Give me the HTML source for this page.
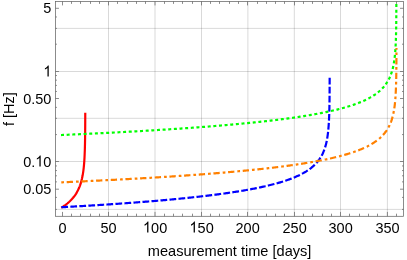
<!DOCTYPE html>
<html><head><meta charset="utf-8"><style>
html,body{margin:0;padding:0;background:#fff;}
body{width:407px;height:260px;overflow:hidden;}
svg{display:block;will-change:transform;opacity:0.999;}
text{font-family:"Liberation Sans",sans-serif;font-size:14.5px;fill:#000;}
</style></head><body>
<svg width="407" height="260" viewBox="0 0 407 260">
<rect width="407" height="260" fill="#fff"/>
<g stroke="#000" stroke-opacity="0.15" stroke-width="1" fill="none">
<line x1="108.50" x2="108.50" y1="1.40" y2="216.30"/>
<line x1="155.00" x2="155.00" y1="1.40" y2="216.30"/>
<line x1="201.50" x2="201.50" y1="1.40" y2="216.30"/>
<line x1="247.90" x2="247.90" y1="1.40" y2="216.30"/>
<line x1="294.30" x2="294.30" y1="1.40" y2="216.30"/>
<line x1="340.50" x2="340.50" y1="1.40" y2="216.30"/>
<line x1="387.40" x2="387.40" y1="1.40" y2="216.30"/>
<line x1="55.45" x2="403.50" y1="28.40" y2="28.40"/>
<line x1="55.45" x2="403.50" y1="71.50" y2="71.50"/>
<line x1="55.45" x2="403.50" y1="118.30" y2="118.30"/>
<line x1="55.45" x2="403.50" y1="161.50" y2="161.50"/>
<line x1="55.45" x2="403.50" y1="209.40" y2="209.40"/>
</g>
<defs><clipPath id="c"><rect x="55.45" y="1.40" width="348.05" height="214.90"/></clipPath></defs>
<g fill="none" stroke-width="2.2" clip-path="url(#c)" stroke-linejoin="round">
<path d="M61.30 207.73 L62.30 207.10 L63.30 206.45 L64.30 205.76 L65.30 205.05 L66.30 204.29 L67.30 203.50 L68.30 202.65 L69.30 201.76 L70.30 200.81 L70.80 200.31 L71.29 199.81 L71.75 199.31 L72.21 198.81 L72.64 198.31 L73.07 197.81 L73.47 197.31 L73.87 196.81 L74.25 196.31 L74.62 195.81 L74.98 195.31 L75.32 194.81 L75.65 194.31 L75.98 193.81 L76.29 193.31 L76.59 192.81 L76.88 192.31 L77.16 191.81 L77.43 191.31 L77.69 190.81 L77.95 190.31 L78.19 189.81 L78.43 189.31 L78.66 188.81 L78.88 188.31 L79.10 187.81 L79.30 187.31 L79.50 186.81 L79.70 186.31 L79.88 185.81 L80.07 185.31 L80.24 184.81 L80.41 184.31 L80.57 183.81 L80.73 183.31 L80.88 182.81 L81.03 182.31 L81.17 181.81 L81.31 181.31 L81.44 180.81 L81.57 180.31 L81.70 179.81 L81.82 179.31 L81.93 178.81 L82.05 178.31 L82.15 177.81 L82.26 177.31 L82.36 176.81 L82.46 176.31 L82.55 175.81 L82.65 175.31 L82.73 174.81 L82.82 174.31 L82.90 173.81 L82.98 173.31 L83.06 172.81 L83.14 172.31 L83.21 171.81 L83.28 171.31 L83.35 170.81 L83.41 170.31 L83.47 169.81 L83.53 169.31 L83.59 168.81 L83.65 168.31 L83.71 167.81 L83.76 167.31 L83.81 166.81 L83.86 166.31 L83.91 165.81 L83.95 165.31 L84.00 164.81 L84.04 164.31 L84.08 163.81 L84.13 163.31 L84.16 162.81 L84.20 162.31 L84.24 161.81 L84.27 161.31 L84.31 160.81 L84.34 160.31 L84.37 159.81 L84.40 159.31 L84.43 158.81 L84.46 158.31 L84.49 157.81 L84.52 157.31 L84.54 156.81 L84.57 156.31 L84.59 155.81 L84.62 155.31 L84.64 154.81 L84.66 154.31 L84.68 153.81 L84.70 153.31 L84.72 152.81 L84.74 152.31 L84.76 151.81 L84.78 151.31 L84.80 150.81 L84.81 150.31 L84.83 149.81 L84.85 149.31 L84.86 148.81 L84.88 148.31 L84.89 147.81 L84.90 147.31 L84.92 146.81 L84.93 146.31 L84.94 145.81 L84.95 145.31 L84.97 144.81 L84.98 144.31 L84.99 143.81 L85.00 143.31 L85.01 142.81 L85.02 142.31 L85.03 141.81 L85.04 141.31 L85.05 140.81 L85.05 140.31 L85.06 139.81 L85.07 139.31 L85.08 138.81 L85.09 138.31 L85.09 137.81 L85.10 137.31 L85.11 136.81 L85.11 136.31 L85.12 135.81 L85.12 135.31 L85.13 134.81 L85.14 134.31 L85.14 133.81 L85.15 133.31 L85.15 132.81 L85.16 132.31 L85.16 131.81 L85.17 131.31 L85.17 130.81 L85.18 130.31 L85.18 129.81 L85.18 129.31 L85.19 128.81 L85.19 128.31 L85.19 127.81 L85.20 127.31 L85.20 126.81 L85.20 126.31 L85.21 125.81 L85.21 125.31 L85.21 124.81 L85.22 124.31 L85.22 123.81 L85.22 123.31 L85.22 122.81 L85.23 122.31 L85.23 121.81 L85.23 121.31 L85.23 120.81 L85.24 120.31 L85.24 119.81 L85.24 119.31 L85.24 118.81 L85.24 118.31 L85.25 117.81 L85.25 117.31 L85.25 116.81 L85.25 116.31 L85.25 115.81 L85.25 115.31 L85.26 114.81 L85.26 114.31 L85.26 113.81 L85.26 113.31 L85.26 112.81 L85.26 112.80" stroke="#ff0000"/>
<path d="M61.00 135.05 L62.00 135.01 L63.00 134.96 L64.00 134.92 L65.00 134.87 L66.00 134.83 L67.00 134.78 L68.00 134.74 L69.00 134.70 L70.00 134.65 L71.00 134.60 L72.00 134.56 L73.00 134.51 L74.00 134.47 L75.00 134.42 L76.00 134.38 L77.00 134.33 L78.00 134.28 L79.00 134.24 L80.00 134.19 L81.00 134.15 L82.00 134.10 L83.00 134.05 L84.00 134.00 L85.00 133.96 L86.00 133.91 L87.00 133.86 L88.00 133.81 L89.00 133.77 L90.00 133.72 L91.00 133.67 L92.00 133.62 L93.00 133.57 L94.00 133.53 L95.00 133.48 L96.00 133.43 L97.00 133.38 L98.00 133.33 L99.00 133.28 L100.00 133.23 L101.00 133.18 L102.00 133.13 L103.00 133.08 L104.00 133.03 L105.00 132.98 L106.00 132.93 L107.00 132.88 L108.00 132.83 L109.00 132.78 L110.00 132.73 L111.00 132.67 L112.00 132.62 L113.00 132.57 L114.00 132.52 L115.00 132.47 L116.00 132.41 L117.00 132.36 L118.00 132.31 L119.00 132.26 L120.00 132.20 L121.00 132.15 L122.00 132.10 L123.00 132.04 L124.00 131.99 L125.00 131.93 L126.00 131.88 L127.00 131.82 L128.00 131.77 L129.00 131.71 L130.00 131.66 L131.00 131.60 L132.00 131.55 L133.00 131.49 L134.00 131.44 L135.00 131.38 L136.00 131.32 L137.00 131.27 L138.00 131.21 L139.00 131.15 L140.00 131.10 L141.00 131.04 L142.00 130.98 L143.00 130.92 L144.00 130.86 L145.00 130.81 L146.00 130.75 L147.00 130.69 L148.00 130.63 L149.00 130.57 L150.00 130.51 L151.00 130.45 L152.00 130.39 L153.00 130.33 L154.00 130.27 L155.00 130.21 L156.00 130.15 L157.00 130.09 L158.00 130.02 L159.00 129.96 L160.00 129.90 L161.00 129.84 L162.00 129.78 L163.00 129.71 L164.00 129.65 L165.00 129.59 L166.00 129.52 L167.00 129.46 L168.00 129.39 L169.00 129.33 L170.00 129.26 L171.00 129.20 L172.00 129.13 L173.00 129.07 L174.00 129.00 L175.00 128.94 L176.00 128.87 L177.00 128.80 L178.00 128.73 L179.00 128.67 L180.00 128.60 L181.00 128.53 L182.00 128.46 L183.00 128.39 L184.00 128.32 L185.00 128.26 L186.00 128.19 L187.00 128.12 L188.00 128.04 L189.00 127.97 L190.00 127.90 L191.00 127.83 L192.00 127.76 L193.00 127.69 L194.00 127.61 L195.00 127.54 L196.00 127.47 L197.00 127.39 L198.00 127.32 L199.00 127.25 L200.00 127.17 L201.00 127.10 L202.00 127.02 L203.00 126.94 L204.00 126.87 L205.00 126.79 L206.00 126.71 L207.00 126.64 L208.00 126.56 L209.00 126.48 L210.00 126.40 L211.00 126.32 L212.00 126.24 L213.00 126.16 L214.00 126.08 L215.00 126.00 L216.00 125.92 L217.00 125.84 L218.00 125.76 L219.00 125.67 L220.00 125.59 L221.00 125.51 L222.00 125.42 L223.00 125.34 L224.00 125.25 L225.00 125.17 L226.00 125.08 L227.00 124.99 L228.00 124.91 L229.00 124.82 L230.00 124.73 L231.00 124.64 L232.00 124.55 L233.00 124.46 L234.00 124.37 L235.00 124.28 L236.00 124.19 L237.00 124.10 L238.00 124.01 L239.00 123.91 L240.00 123.82 L241.00 123.72 L242.00 123.63 L243.00 123.53 L244.00 123.44 L245.00 123.34 L246.00 123.24 L247.00 123.14 L248.00 123.05 L249.00 122.95 L250.00 122.85 L251.00 122.74 L252.00 122.64 L253.00 122.54 L254.00 122.44 L255.00 122.33 L256.00 122.23 L257.00 122.12 L258.00 122.02 L259.00 121.91 L260.00 121.80 L261.00 121.70 L262.00 121.59 L263.00 121.48 L264.00 121.37 L265.00 121.25 L266.00 121.14 L267.00 121.03 L268.00 120.91 L269.00 120.80 L270.00 120.68 L271.00 120.57 L272.00 120.45 L273.00 120.33 L274.00 120.21 L275.00 120.09 L276.00 119.97 L277.00 119.84 L278.00 119.72 L279.00 119.60 L280.00 119.47 L281.00 119.34 L282.00 119.21 L283.00 119.09 L284.00 118.95 L285.00 118.82 L286.00 118.69 L287.00 118.56 L288.00 118.42 L289.00 118.29 L290.00 118.15 L291.00 118.01 L292.00 117.87 L293.00 117.73 L294.00 117.58 L295.00 117.44 L296.00 117.29 L297.00 117.15 L298.00 117.00 L299.00 116.85 L300.00 116.69 L301.00 116.54 L302.00 116.39 L303.00 116.23 L304.00 116.07 L305.00 115.91 L306.00 115.75 L307.00 115.58 L308.00 115.42 L309.00 115.25 L310.00 115.08 L311.00 114.91 L312.00 114.74 L313.00 114.56 L314.00 114.38 L315.00 114.20 L316.00 114.02 L317.00 113.84 L318.00 113.65 L319.00 113.46 L320.00 113.27 L321.00 113.08 L322.00 112.88 L323.00 112.68 L324.00 112.48 L325.00 112.27 L326.00 112.07 L327.00 111.86 L328.00 111.64 L329.00 111.43 L330.00 111.21 L331.00 110.98 L332.00 110.76 L333.00 110.52 L334.00 110.29 L335.00 110.05 L336.00 109.81 L337.00 109.57 L338.00 109.32 L339.00 109.06 L340.00 108.80 L341.00 108.54 L342.00 108.27 L343.00 108.00 L344.00 107.72 L345.00 107.44 L346.00 107.15 L347.00 106.85 L348.00 106.55 L349.00 106.24 L350.00 105.93 L351.00 105.61 L352.00 105.28 L353.00 104.94 L354.00 104.60 L355.00 104.25 L356.00 103.89 L357.00 103.52 L358.00 103.14 L359.00 102.75 L360.00 102.36 L361.00 101.95 L362.00 101.52 L363.00 101.09 L364.00 100.64 L365.00 100.18 L366.00 99.70 L367.00 99.21 L368.00 98.70 L369.00 98.17 L370.00 97.63 L371.00 97.06 L372.00 96.47 L373.00 95.85 L374.00 95.21 L375.00 94.54 L376.00 93.83 L377.00 93.09 L378.00 92.31 L379.00 91.49 L380.00 90.62 L381.00 89.69 L381.51 89.19 L382.01 88.69 L382.49 88.19 L382.96 87.69 L383.41 87.19 L383.84 86.69 L384.26 86.19 L384.66 85.69 L385.06 85.19 L385.43 84.69 L385.80 84.19 L386.15 83.69 L386.50 83.19 L386.83 82.69 L387.15 82.19 L387.46 81.69 L387.75 81.19 L388.04 80.69 L388.32 80.19 L388.59 79.69 L388.85 79.19 L389.10 78.69 L389.35 78.19 L389.58 77.69 L389.81 77.19 L390.03 76.69 L390.24 76.19 L390.45 75.69 L390.65 75.19 L390.84 74.69 L391.03 74.19 L391.21 73.69 L391.38 73.19 L391.55 72.69 L391.71 72.19 L391.87 71.69 L392.02 71.19 L392.16 70.69 L392.30 70.19 L392.44 69.69 L392.57 69.19 L392.70 68.69 L392.82 68.19 L392.94 67.69 L393.06 67.19 L393.17 66.69 L393.28 66.19 L393.38 65.69 L393.48 65.19 L393.58 64.69 L393.68 64.19 L393.77 63.69 L393.85 63.19 L393.94 62.69 L394.02 62.19 L394.10 61.69 L394.18 61.19 L394.25 60.69 L394.32 60.19 L394.39 59.69 L394.46 59.19 L394.52 58.69 L394.59 58.19 L394.65 57.69 L394.71 57.19 L394.76 56.69 L394.82 56.19 L394.87 55.69 L394.92 55.19 L394.97 54.69 L395.02 54.19 L395.06 53.69 L395.11 53.19 L395.15 52.69 L395.19 52.19 L395.23 51.69 L395.27 51.19 L395.31 50.69 L395.35 50.19 L395.38 49.69 L395.42 49.19 L395.45 48.69 L395.48 48.19 L395.51 47.69 L395.54 47.19 L395.57 46.69 L395.60 46.19 L395.62 45.69 L395.65 45.19 L395.68 44.69 L395.70 44.19 L395.72 43.69 L395.75 43.19 L395.77 42.69 L395.79 42.19 L395.81 41.69 L395.83 41.19 L395.85 40.69 L395.87 40.19 L395.88 39.69 L395.90 39.19 L395.92 38.69 L395.93 38.19 L395.95 37.69 L395.96 37.19 L395.98 36.69 L395.99 36.19 L396.01 35.69 L396.02 35.19 L396.03 34.69 L396.04 34.19 L396.06 33.69 L396.07 33.19 L396.08 32.69 L396.09 32.19 L396.10 31.69 L396.11 31.19 L396.12 30.69 L396.13 30.19 L396.14 29.69 L396.15 29.19 L396.16 28.69 L396.16 28.19 L396.17 27.69 L396.18 27.19 L396.19 26.69 L396.19 26.19 L396.20 25.69 L396.21 25.19 L396.21 24.69 L396.22 24.19 L396.23 23.69 L396.23 23.19 L396.24 22.69 L396.24 22.19 L396.25 21.69 L396.25 21.19 L396.26 20.69 L396.26 20.19 L396.27 19.69 L396.27 19.19 L396.28 18.69 L396.28 18.19 L396.28 17.69 L396.29 17.19 L396.29 16.69 L396.30 16.19 L396.30 15.69 L396.30 15.19 L396.31 14.69 L396.31 14.19 L396.31 13.69 L396.31 13.19 L396.32 12.69 L396.32 12.19 L396.32 11.69 L396.33 11.19 L396.33 10.69 L396.33 10.19 L396.33 9.69 L396.34 9.19 L396.34 8.69 L396.34 8.19 L396.34 7.69 L396.34 7.19 L396.35 6.69 L396.35 6.19 L396.35 5.69 L396.35 5.19 L396.35 4.69 L396.35 4.19 L396.36 3.69 L396.36 3.19 L396.36 2.69 L396.36 2.19 L396.36 1.69 L396.36 1.40" stroke="#00ff00" stroke-dasharray="3 2.652"/>
<path d="M61.30 207.25 L62.30 207.19 L63.30 207.14 L64.30 207.08 L65.30 207.03 L66.30 206.97 L67.30 206.91 L68.30 206.86 L69.30 206.80 L70.30 206.74 L71.30 206.69 L72.30 206.63 L73.30 206.57 L74.30 206.52 L75.30 206.46 L76.30 206.40 L77.30 206.34 L78.30 206.28 L79.30 206.22 L80.30 206.17 L81.30 206.11 L82.30 206.05 L83.30 205.99 L84.30 205.93 L85.30 205.87 L86.30 205.81 L87.30 205.75 L88.30 205.69 L89.30 205.62 L90.30 205.56 L91.30 205.50 L92.30 205.44 L93.30 205.38 L94.30 205.32 L95.30 205.25 L96.30 205.19 L97.30 205.13 L98.30 205.06 L99.30 205.00 L100.30 204.94 L101.30 204.87 L102.30 204.81 L103.30 204.74 L104.30 204.68 L105.30 204.61 L106.30 204.54 L107.30 204.48 L108.30 204.41 L109.30 204.35 L110.30 204.28 L111.30 204.21 L112.30 204.14 L113.30 204.08 L114.30 204.01 L115.30 203.94 L116.30 203.87 L117.30 203.80 L118.30 203.73 L119.30 203.66 L120.30 203.59 L121.30 203.52 L122.30 203.45 L123.30 203.38 L124.30 203.31 L125.30 203.24 L126.30 203.16 L127.30 203.09 L128.30 203.02 L129.30 202.95 L130.30 202.87 L131.30 202.80 L132.30 202.72 L133.30 202.65 L134.30 202.57 L135.30 202.50 L136.30 202.42 L137.30 202.35 L138.30 202.27 L139.30 202.19 L140.30 202.11 L141.30 202.04 L142.30 201.96 L143.30 201.88 L144.30 201.80 L145.30 201.72 L146.30 201.64 L147.30 201.56 L148.30 201.48 L149.30 201.40 L150.30 201.32 L151.30 201.23 L152.30 201.15 L153.30 201.07 L154.30 200.98 L155.30 200.90 L156.30 200.81 L157.30 200.73 L158.30 200.64 L159.30 200.56 L160.30 200.47 L161.30 200.38 L162.30 200.30 L163.30 200.21 L164.30 200.12 L165.30 200.03 L166.30 199.94 L167.30 199.85 L168.30 199.76 L169.30 199.67 L170.30 199.58 L171.30 199.48 L172.30 199.39 L173.30 199.30 L174.30 199.20 L175.30 199.11 L176.30 199.01 L177.30 198.91 L178.30 198.82 L179.30 198.72 L180.30 198.62 L181.30 198.52 L182.30 198.42 L183.30 198.32 L184.30 198.22 L185.30 198.12 L186.30 198.02 L187.30 197.91 L188.30 197.81 L189.30 197.71 L190.30 197.60 L191.30 197.50 L192.30 197.39 L193.30 197.28 L194.30 197.17 L195.30 197.06 L196.30 196.95 L197.30 196.84 L198.30 196.73 L199.30 196.62 L200.30 196.51 L201.30 196.39 L202.30 196.28 L203.30 196.16 L204.30 196.04 L205.30 195.93 L206.30 195.81 L207.30 195.69 L208.30 195.57 L209.30 195.44 L210.30 195.32 L211.30 195.20 L212.30 195.07 L213.30 194.95 L214.30 194.82 L215.30 194.69 L216.30 194.56 L217.30 194.43 L218.30 194.30 L219.30 194.17 L220.30 194.03 L221.30 193.90 L222.30 193.76 L223.30 193.62 L224.30 193.49 L225.30 193.34 L226.30 193.20 L227.30 193.06 L228.30 192.92 L229.30 192.77 L230.30 192.62 L231.30 192.47 L232.30 192.32 L233.30 192.17 L234.30 192.02 L235.30 191.86 L236.30 191.71 L237.30 191.55 L238.30 191.39 L239.30 191.23 L240.30 191.06 L241.30 190.90 L242.30 190.73 L243.30 190.56 L244.30 190.39 L245.30 190.21 L246.30 190.04 L247.30 189.86 L248.30 189.68 L249.30 189.50 L250.30 189.31 L251.30 189.13 L252.30 188.94 L253.30 188.75 L254.30 188.55 L255.30 188.36 L256.30 188.16 L257.30 187.96 L258.30 187.75 L259.30 187.54 L260.30 187.33 L261.30 187.12 L262.30 186.90 L263.30 186.68 L264.30 186.46 L265.30 186.23 L266.30 186.00 L267.30 185.77 L268.30 185.53 L269.30 185.29 L270.30 185.04 L271.30 184.79 L272.30 184.54 L273.30 184.28 L274.30 184.02 L275.30 183.75 L276.30 183.47 L277.30 183.20 L278.30 182.91 L279.30 182.62 L280.30 182.33 L281.30 182.03 L282.30 181.72 L283.30 181.41 L284.30 181.09 L285.30 180.76 L286.30 180.42 L287.30 180.08 L288.30 179.73 L289.30 179.37 L290.30 179.00 L291.30 178.62 L292.30 178.23 L293.30 177.83 L294.30 177.42 L295.30 177.00 L296.30 176.57 L297.30 176.12 L298.30 175.66 L299.30 175.18 L300.30 174.69 L301.30 174.18 L302.30 173.65 L303.30 173.10 L304.30 172.53 L305.30 171.94 L306.30 171.33 L307.30 170.68 L308.30 170.01 L309.30 169.31 L310.30 168.57 L311.30 167.79 L312.30 166.97 L313.30 166.09 L314.30 165.17 L314.81 164.67 L315.31 164.17 L315.79 163.67 L316.26 163.17 L316.71 162.67 L317.14 162.17 L317.56 161.67 L317.96 161.17 L318.36 160.67 L318.73 160.17 L319.10 159.67 L319.45 159.17 L319.80 158.67 L320.13 158.17 L320.45 157.67 L320.76 157.17 L321.05 156.67 L321.34 156.17 L321.62 155.67 L321.89 155.17 L322.15 154.67 L322.40 154.17 L322.65 153.67 L322.88 153.17 L323.11 152.67 L323.33 152.17 L323.54 151.67 L323.75 151.17 L323.95 150.67 L324.14 150.17 L324.33 149.67 L324.51 149.17 L324.68 148.67 L324.85 148.17 L325.01 147.67 L325.17 147.17 L325.32 146.67 L325.46 146.17 L325.60 145.67 L325.74 145.17 L325.87 144.67 L326.00 144.17 L326.12 143.67 L326.24 143.17 L326.36 142.67 L326.47 142.17 L326.58 141.67 L326.68 141.17 L326.78 140.67 L326.88 140.17 L326.98 139.67 L327.07 139.17 L327.15 138.67 L327.24 138.17 L327.32 137.67 L327.40 137.17 L327.48 136.67 L327.55 136.17 L327.62 135.67 L327.69 135.17 L327.76 134.67 L327.82 134.17 L327.89 133.67 L327.95 133.17 L328.01 132.67 L328.06 132.17 L328.12 131.67 L328.17 131.17 L328.22 130.67 L328.27 130.17 L328.32 129.67 L328.36 129.17 L328.41 128.67 L328.45 128.17 L328.49 127.67 L328.53 127.17 L328.57 126.67 L328.61 126.17 L328.65 125.67 L328.68 125.17 L328.72 124.67 L328.75 124.17 L328.78 123.67 L328.81 123.17 L328.84 122.67 L328.87 122.17 L328.90 121.67 L328.92 121.17 L328.95 120.67 L328.98 120.17 L329.00 119.67 L329.02 119.17 L329.05 118.67 L329.07 118.17 L329.09 117.67 L329.11 117.17 L329.13 116.67 L329.15 116.17 L329.17 115.67 L329.18 115.17 L329.20 114.67 L329.22 114.17 L329.23 113.67 L329.25 113.17 L329.26 112.67 L329.28 112.17 L329.29 111.67 L329.31 111.17 L329.32 110.67 L329.33 110.17 L329.34 109.67 L329.36 109.17 L329.37 108.67 L329.38 108.17 L329.39 107.67 L329.40 107.17 L329.41 106.67 L329.42 106.17 L329.43 105.67 L329.44 105.17 L329.45 104.67 L329.46 104.17 L329.46 103.67 L329.47 103.17 L329.48 102.67 L329.49 102.17 L329.49 101.67 L329.50 101.17 L329.51 100.67 L329.51 100.17 L329.52 99.67 L329.53 99.17 L329.53 98.67 L329.54 98.17 L329.54 97.67 L329.55 97.17 L329.55 96.67 L329.56 96.17 L329.56 95.67 L329.57 95.17 L329.57 94.67 L329.58 94.17 L329.58 93.67 L329.58 93.17 L329.59 92.67 L329.59 92.17 L329.60 91.67 L329.60 91.17 L329.60 90.67 L329.61 90.17 L329.61 89.67 L329.61 89.17 L329.61 88.67 L329.62 88.17 L329.62 87.67 L329.62 87.17 L329.63 86.67 L329.63 86.17 L329.63 85.67 L329.63 85.17 L329.64 84.67 L329.64 84.17 L329.64 83.67 L329.64 83.17 L329.64 82.67 L329.65 82.17 L329.65 81.67 L329.65 81.17 L329.65 80.67 L329.65 80.17 L329.65 79.67 L329.66 79.17 L329.66 78.67 L329.66 78.17 L329.66 77.70" stroke="#0000ff" stroke-dasharray="6.75 2.289"/>
<path d="M61.30 182.34 L62.30 182.29 L63.30 182.25 L64.30 182.21 L65.30 182.16 L66.30 182.12 L67.30 182.07 L68.30 182.03 L69.30 181.98 L70.30 181.94 L71.30 181.89 L72.30 181.85 L73.30 181.80 L74.30 181.76 L75.30 181.71 L76.30 181.66 L77.30 181.62 L78.30 181.57 L79.30 181.52 L80.30 181.48 L81.30 181.43 L82.30 181.38 L83.30 181.34 L84.30 181.29 L85.30 181.24 L86.30 181.20 L87.30 181.15 L88.30 181.10 L89.30 181.05 L90.30 181.01 L91.30 180.96 L92.30 180.91 L93.30 180.86 L94.30 180.81 L95.30 180.76 L96.30 180.71 L97.30 180.66 L98.30 180.62 L99.30 180.57 L100.30 180.52 L101.30 180.47 L102.30 180.42 L103.30 180.37 L104.30 180.32 L105.30 180.27 L106.30 180.22 L107.30 180.16 L108.30 180.11 L109.30 180.06 L110.30 180.01 L111.30 179.96 L112.30 179.91 L113.30 179.86 L114.30 179.80 L115.30 179.75 L116.30 179.70 L117.30 179.65 L118.30 179.59 L119.30 179.54 L120.30 179.49 L121.30 179.43 L122.30 179.38 L123.30 179.33 L124.30 179.27 L125.30 179.22 L126.30 179.16 L127.30 179.11 L128.30 179.05 L129.30 179.00 L130.30 178.94 L131.30 178.89 L132.30 178.83 L133.30 178.78 L134.30 178.72 L135.30 178.66 L136.30 178.61 L137.30 178.55 L138.30 178.49 L139.30 178.44 L140.30 178.38 L141.30 178.32 L142.30 178.27 L143.30 178.21 L144.30 178.15 L145.30 178.09 L146.30 178.03 L147.30 177.97 L148.30 177.91 L149.30 177.85 L150.30 177.79 L151.30 177.73 L152.30 177.67 L153.30 177.61 L154.30 177.55 L155.30 177.49 L156.30 177.43 L157.30 177.37 L158.30 177.31 L159.30 177.25 L160.30 177.18 L161.30 177.12 L162.30 177.06 L163.30 177.00 L164.30 176.93 L165.30 176.87 L166.30 176.80 L167.30 176.74 L168.30 176.68 L169.30 176.61 L170.30 176.55 L171.30 176.48 L172.30 176.42 L173.30 176.35 L174.30 176.28 L175.30 176.22 L176.30 176.15 L177.30 176.08 L178.30 176.02 L179.30 175.95 L180.30 175.88 L181.30 175.81 L182.30 175.74 L183.30 175.68 L184.30 175.61 L185.30 175.54 L186.30 175.47 L187.30 175.40 L188.30 175.33 L189.30 175.26 L190.30 175.18 L191.30 175.11 L192.30 175.04 L193.30 174.97 L194.30 174.90 L195.30 174.82 L196.30 174.75 L197.30 174.68 L198.30 174.60 L199.30 174.53 L200.30 174.45 L201.30 174.38 L202.30 174.30 L203.30 174.23 L204.30 174.15 L205.30 174.07 L206.30 173.99 L207.30 173.92 L208.30 173.84 L209.30 173.76 L210.30 173.68 L211.30 173.60 L212.30 173.52 L213.30 173.44 L214.30 173.36 L215.30 173.28 L216.30 173.20 L217.30 173.12 L218.30 173.04 L219.30 172.95 L220.30 172.87 L221.30 172.79 L222.30 172.70 L223.30 172.62 L224.30 172.53 L225.30 172.45 L226.30 172.36 L227.30 172.27 L228.30 172.19 L229.30 172.10 L230.30 172.01 L231.30 171.92 L232.30 171.83 L233.30 171.74 L234.30 171.65 L235.30 171.56 L236.30 171.47 L237.30 171.38 L238.30 171.28 L239.30 171.19 L240.30 171.10 L241.30 171.00 L242.30 170.91 L243.30 170.81 L244.30 170.71 L245.30 170.62 L246.30 170.52 L247.30 170.42 L248.30 170.32 L249.30 170.22 L250.30 170.12 L251.30 170.02 L252.30 169.92 L253.30 169.82 L254.30 169.71 L255.30 169.61 L256.30 169.50 L257.30 169.40 L258.30 169.29 L259.30 169.19 L260.30 169.08 L261.30 168.97 L262.30 168.86 L263.30 168.75 L264.30 168.64 L265.30 168.53 L266.30 168.41 L267.30 168.30 L268.30 168.19 L269.30 168.07 L270.30 167.96 L271.30 167.84 L272.30 167.72 L273.30 167.60 L274.30 167.48 L275.30 167.36 L276.30 167.24 L277.30 167.12 L278.30 166.99 L279.30 166.87 L280.30 166.74 L281.30 166.61 L282.30 166.48 L283.30 166.35 L284.30 166.22 L285.30 166.09 L286.30 165.96 L287.30 165.83 L288.30 165.69 L289.30 165.55 L290.30 165.42 L291.30 165.28 L292.30 165.14 L293.30 164.99 L294.30 164.85 L295.30 164.71 L296.30 164.56 L297.30 164.41 L298.30 164.26 L299.30 164.11 L300.30 163.96 L301.30 163.81 L302.30 163.65 L303.30 163.49 L304.30 163.33 L305.30 163.17 L306.30 163.01 L307.30 162.85 L308.30 162.68 L309.30 162.51 L310.30 162.34 L311.30 162.17 L312.30 162.00 L313.30 161.82 L314.30 161.64 L315.30 161.46 L316.30 161.28 L317.30 161.10 L318.30 160.91 L319.30 160.72 L320.30 160.53 L321.30 160.33 L322.30 160.14 L323.30 159.94 L324.30 159.73 L325.30 159.53 L326.30 159.32 L327.30 159.11 L328.30 158.89 L329.30 158.68 L330.30 158.46 L331.30 158.23 L332.30 158.01 L333.30 157.77 L334.30 157.54 L335.30 157.30 L336.30 157.06 L337.30 156.81 L338.30 156.56 L339.30 156.31 L340.30 156.05 L341.30 155.78 L342.30 155.51 L343.30 155.24 L344.30 154.96 L345.30 154.67 L346.30 154.38 L347.30 154.09 L348.30 153.78 L349.30 153.48 L350.30 153.16 L351.30 152.84 L352.30 152.51 L353.30 152.17 L354.30 151.83 L355.30 151.47 L356.30 151.11 L357.30 150.74 L358.30 150.36 L359.30 149.97 L360.30 149.57 L361.30 149.16 L362.30 148.73 L363.30 148.30 L364.30 147.85 L365.30 147.38 L366.30 146.90 L367.30 146.41 L368.30 145.89 L369.30 145.36 L370.30 144.81 L371.30 144.24 L372.30 143.64 L373.30 143.02 L374.30 142.37 L375.30 141.69 L376.30 140.98 L377.30 140.23 L378.30 139.45 L379.30 138.61 L380.30 137.73 L381.30 136.79 L381.81 136.29 L382.30 135.79 L382.77 135.29 L383.23 134.79 L383.67 134.29 L384.10 133.79 L384.52 133.29 L384.92 132.79 L385.30 132.29 L385.68 131.79 L386.04 131.29 L386.39 130.79 L386.73 130.29 L387.05 129.79 L387.37 129.29 L387.67 128.79 L387.97 128.29 L388.25 127.79 L388.53 127.29 L388.79 126.79 L389.05 126.29 L389.30 125.79 L389.54 125.29 L389.77 124.79 L390.00 124.29 L390.21 123.79 L390.42 123.29 L390.63 122.79 L390.82 122.29 L391.01 121.79 L391.20 121.29 L391.37 120.79 L391.54 120.29 L391.71 119.79 L391.87 119.29 L392.02 118.79 L392.17 118.29 L392.32 117.79 L392.46 117.29 L392.59 116.79 L392.72 116.29 L392.85 115.79 L392.97 115.29 L393.09 114.79 L393.20 114.29 L393.31 113.79 L393.42 113.29 L393.52 112.79 L393.62 112.29 L393.72 111.79 L393.81 111.29 L393.90 110.79 L393.99 110.29 L394.07 109.79 L394.15 109.29 L394.23 108.79 L394.31 108.29 L394.38 107.79 L394.45 107.29 L394.52 106.79 L394.59 106.29 L394.65 105.79 L394.71 105.29 L394.77 104.79 L394.83 104.29 L394.88 103.79 L394.94 103.29 L394.99 102.79 L395.04 102.29 L395.09 101.79 L395.14 101.29 L395.18 100.79 L395.23 100.29 L395.27 99.79 L395.31 99.29 L395.35 98.79 L395.39 98.29 L395.43 97.79 L395.46 97.29 L395.50 96.79 L395.53 96.29 L395.56 95.79 L395.59 95.29 L395.62 94.79 L395.65 94.29 L395.68 93.79 L395.71 93.29 L395.73 92.79 L395.76 92.29 L395.78 91.79 L395.81 91.29 L395.83 90.79 L395.85 90.29 L395.88 89.79 L395.90 89.29 L395.92 88.79 L395.94 88.29 L395.95 87.79 L395.97 87.29 L395.99 86.79 L396.01 86.29 L396.02 85.79 L396.04 85.29 L396.06 84.79 L396.07 84.29 L396.08 83.79 L396.10 83.29 L396.11 82.79 L396.12 82.29 L396.14 81.79 L396.15 81.29 L396.16 80.79 L396.17 80.29 L396.18 79.79 L396.19 79.29 L396.20 78.79 L396.21 78.29 L396.22 77.79 L396.23 77.29 L396.24 76.79 L396.25 76.29 L396.26 75.79 L396.27 75.29 L396.27 74.79 L396.28 74.29 L396.29 73.79 L396.30 73.29 L396.30 72.79 L396.31 72.29 L396.32 71.79 L396.32 71.29 L396.33 70.79 L396.33 70.29 L396.34 69.79 L396.34 69.29 L396.35 68.79 L396.36 68.29 L396.36 67.79 L396.36 67.29 L396.37 66.79 L396.37 66.29 L396.38 65.79 L396.38 65.29 L396.39 64.79 L396.39 64.29 L396.39 63.79 L396.40 63.29 L396.40 62.79 L396.40 62.29 L396.41 61.79 L396.41 61.29 L396.41 60.79 L396.42 60.29 L396.42 59.79 L396.42 59.29 L396.42 58.79 L396.43 58.29 L396.43 57.79 L396.43 57.29 L396.43 56.79 L396.44 56.29 L396.44 55.79 L396.44 55.29 L396.44 54.79 L396.44 54.29 L396.45 53.79 L396.45 53.29 L396.45 52.79 L396.45 52.29 L396.45 51.79 L396.45 51.29 L396.46 50.79 L396.46 50.29 L396.46 49.79 L396.46 49.29 L396.46 48.79 L396.46 48.29 L396.46 48.00" stroke="#ff8000" stroke-dasharray="2.7 2.7 6.3 3.0"/>
</g>
<g stroke="#666" stroke-width="0.75" fill="none">
<line x1="62.50" x2="62.50" y1="216.30" y2="211.90"/>
<line x1="62.50" x2="62.50" y1="1.40" y2="5.40"/>
<line x1="71.50" x2="71.50" y1="216.30" y2="213.70"/>
<line x1="71.50" x2="71.50" y1="1.40" y2="3.90"/>
<line x1="80.50" x2="80.50" y1="216.30" y2="213.70"/>
<line x1="80.50" x2="80.50" y1="1.40" y2="3.90"/>
<line x1="90.50" x2="90.50" y1="216.30" y2="213.70"/>
<line x1="90.50" x2="90.50" y1="1.40" y2="3.90"/>
<line x1="99.50" x2="99.50" y1="216.30" y2="213.70"/>
<line x1="99.50" x2="99.50" y1="1.40" y2="3.90"/>
<line x1="108.50" x2="108.50" y1="216.30" y2="211.90"/>
<line x1="108.50" x2="108.50" y1="1.40" y2="5.40"/>
<line x1="117.50" x2="117.50" y1="216.30" y2="213.70"/>
<line x1="117.50" x2="117.50" y1="1.40" y2="3.90"/>
<line x1="127.50" x2="127.50" y1="216.30" y2="213.70"/>
<line x1="127.50" x2="127.50" y1="1.40" y2="3.90"/>
<line x1="136.50" x2="136.50" y1="216.30" y2="213.70"/>
<line x1="136.50" x2="136.50" y1="1.40" y2="3.90"/>
<line x1="145.50" x2="145.50" y1="216.30" y2="213.70"/>
<line x1="145.50" x2="145.50" y1="1.40" y2="3.90"/>
<line x1="155.00" x2="155.00" y1="216.30" y2="211.90"/>
<line x1="155.00" x2="155.00" y1="1.40" y2="5.40"/>
<line x1="164.50" x2="164.50" y1="216.30" y2="213.70"/>
<line x1="164.50" x2="164.50" y1="1.40" y2="3.90"/>
<line x1="173.50" x2="173.50" y1="216.30" y2="213.70"/>
<line x1="173.50" x2="173.50" y1="1.40" y2="3.90"/>
<line x1="182.50" x2="182.50" y1="216.30" y2="213.70"/>
<line x1="182.50" x2="182.50" y1="1.40" y2="3.90"/>
<line x1="192.50" x2="192.50" y1="216.30" y2="213.70"/>
<line x1="192.50" x2="192.50" y1="1.40" y2="3.90"/>
<line x1="201.50" x2="201.50" y1="216.30" y2="211.90"/>
<line x1="201.50" x2="201.50" y1="1.40" y2="5.40"/>
<line x1="210.50" x2="210.50" y1="216.30" y2="213.70"/>
<line x1="210.50" x2="210.50" y1="1.40" y2="3.90"/>
<line x1="219.50" x2="219.50" y1="216.30" y2="213.70"/>
<line x1="219.50" x2="219.50" y1="1.40" y2="3.90"/>
<line x1="229.50" x2="229.50" y1="216.30" y2="213.70"/>
<line x1="229.50" x2="229.50" y1="1.40" y2="3.90"/>
<line x1="238.50" x2="238.50" y1="216.30" y2="213.70"/>
<line x1="238.50" x2="238.50" y1="1.40" y2="3.90"/>
<line x1="247.50" x2="247.50" y1="216.30" y2="211.90"/>
<line x1="247.50" x2="247.50" y1="1.40" y2="5.40"/>
<line x1="257.50" x2="257.50" y1="216.30" y2="213.70"/>
<line x1="257.50" x2="257.50" y1="1.40" y2="3.90"/>
<line x1="266.50" x2="266.50" y1="216.30" y2="213.70"/>
<line x1="266.50" x2="266.50" y1="1.40" y2="3.90"/>
<line x1="275.50" x2="275.50" y1="216.30" y2="213.70"/>
<line x1="275.50" x2="275.50" y1="1.40" y2="3.90"/>
<line x1="284.50" x2="284.50" y1="216.30" y2="213.70"/>
<line x1="284.50" x2="284.50" y1="1.40" y2="3.90"/>
<line x1="294.50" x2="294.50" y1="216.30" y2="211.90"/>
<line x1="294.50" x2="294.50" y1="1.40" y2="5.40"/>
<line x1="303.50" x2="303.50" y1="216.30" y2="213.70"/>
<line x1="303.50" x2="303.50" y1="1.40" y2="3.90"/>
<line x1="312.50" x2="312.50" y1="216.30" y2="213.70"/>
<line x1="312.50" x2="312.50" y1="1.40" y2="3.90"/>
<line x1="322.50" x2="322.50" y1="216.30" y2="213.70"/>
<line x1="322.50" x2="322.50" y1="1.40" y2="3.90"/>
<line x1="331.50" x2="331.50" y1="216.30" y2="213.70"/>
<line x1="331.50" x2="331.50" y1="1.40" y2="3.90"/>
<line x1="340.50" x2="340.50" y1="216.30" y2="211.90"/>
<line x1="340.50" x2="340.50" y1="1.40" y2="5.40"/>
<line x1="349.50" x2="349.50" y1="216.30" y2="213.70"/>
<line x1="349.50" x2="349.50" y1="1.40" y2="3.90"/>
<line x1="359.50" x2="359.50" y1="216.30" y2="213.70"/>
<line x1="359.50" x2="359.50" y1="1.40" y2="3.90"/>
<line x1="368.50" x2="368.50" y1="216.30" y2="213.70"/>
<line x1="368.50" x2="368.50" y1="1.40" y2="3.90"/>
<line x1="377.50" x2="377.50" y1="216.30" y2="213.70"/>
<line x1="377.50" x2="377.50" y1="1.40" y2="3.90"/>
<line x1="387.40" x2="387.40" y1="216.30" y2="211.90"/>
<line x1="387.40" x2="387.40" y1="1.40" y2="5.40"/>
<line x1="396.50" x2="396.50" y1="216.30" y2="213.70"/>
<line x1="396.50" x2="396.50" y1="1.40" y2="3.90"/>
<line x1="55.45" x2="58.95" y1="8.30" y2="8.30"/>
<line x1="403.50" x2="400.00" y1="8.30" y2="8.30"/>
<line x1="55.45" x2="58.95" y1="71.50" y2="71.50"/>
<line x1="403.50" x2="400.00" y1="71.50" y2="71.50"/>
<line x1="55.45" x2="58.95" y1="98.50" y2="98.50"/>
<line x1="403.50" x2="400.00" y1="98.50" y2="98.50"/>
<line x1="55.45" x2="58.95" y1="161.50" y2="161.50"/>
<line x1="403.50" x2="400.00" y1="161.50" y2="161.50"/>
<line x1="55.45" x2="58.95" y1="189.20" y2="189.20"/>
<line x1="403.50" x2="400.00" y1="189.20" y2="189.20"/>
<line x1="55.45" x2="56.95" y1="16.97" y2="16.97"/>
<line x1="403.50" x2="402.00" y1="16.97" y2="16.97"/>
<line x1="55.45" x2="56.95" y1="28.40" y2="28.40"/>
<line x1="403.50" x2="402.00" y1="28.40" y2="28.40"/>
<line x1="55.45" x2="56.95" y1="44.19" y2="44.19"/>
<line x1="403.50" x2="402.00" y1="44.19" y2="44.19"/>
<line x1="55.45" x2="56.95" y1="75.54" y2="75.54"/>
<line x1="403.50" x2="402.00" y1="75.54" y2="75.54"/>
<line x1="55.45" x2="56.95" y1="80.16" y2="80.16"/>
<line x1="403.50" x2="402.00" y1="80.16" y2="80.16"/>
<line x1="55.45" x2="56.95" y1="85.40" y2="85.40"/>
<line x1="403.50" x2="402.00" y1="85.40" y2="85.40"/>
<line x1="55.45" x2="56.95" y1="91.46" y2="91.46"/>
<line x1="403.50" x2="402.00" y1="91.46" y2="91.46"/>
<line x1="55.45" x2="56.95" y1="107.37" y2="107.37"/>
<line x1="403.50" x2="402.00" y1="107.37" y2="107.37"/>
<line x1="55.45" x2="56.95" y1="118.30" y2="118.30"/>
<line x1="403.50" x2="402.00" y1="118.30" y2="118.30"/>
<line x1="55.45" x2="56.95" y1="134.59" y2="134.59"/>
<line x1="403.50" x2="402.00" y1="134.59" y2="134.59"/>
<line x1="55.45" x2="56.95" y1="165.94" y2="165.94"/>
<line x1="403.50" x2="402.00" y1="165.94" y2="165.94"/>
<line x1="55.45" x2="56.95" y1="170.56" y2="170.56"/>
<line x1="403.50" x2="402.00" y1="170.56" y2="170.56"/>
<line x1="55.45" x2="56.95" y1="175.80" y2="175.80"/>
<line x1="403.50" x2="402.00" y1="175.80" y2="175.80"/>
<line x1="55.45" x2="56.95" y1="181.86" y2="181.86"/>
<line x1="403.50" x2="402.00" y1="181.86" y2="181.86"/>
<line x1="55.45" x2="56.95" y1="197.40" y2="197.40"/>
<line x1="403.50" x2="402.00" y1="197.40" y2="197.40"/>
<line x1="55.45" x2="56.95" y1="209.40" y2="209.40"/>
<line x1="403.50" x2="402.00" y1="209.40" y2="209.40"/>
<rect x="55.45" y="1.40" width="348.05" height="214.90"/>
</g>
<g>
<g transform="translate(62.60,232.60) scale(1,1.055)"><text x="-4.03" y="0">0</text></g>
<g transform="translate(108.60,232.60) scale(1,1.055)"><text x="-8.06" y="0">50</text></g>
<g transform="translate(155.10,232.60) scale(1,1.055)"><path transform="translate(-12.09,0) scale(0.007080,-0.007080)" d="M763 0 L583 0 L583 1147 Q518 1085 412.5 1023 Q307 961 223 930 L223 1104 Q374 1175 487 1276 Q600 1377 647 1472 L763 1472 Z"/><text x="-4.03" y="0">00</text></g>
<g transform="translate(201.60,232.60) scale(1,1.055)"><path transform="translate(-12.09,0) scale(0.007080,-0.007080)" d="M763 0 L583 0 L583 1147 Q518 1085 412.5 1023 Q307 961 223 930 L223 1104 Q374 1175 487 1276 Q600 1377 647 1472 L763 1472 Z"/><text x="-4.03" y="0">50</text></g>
<g transform="translate(247.60,232.60) scale(1,1.055)"><text x="-12.09" y="0">200</text></g>
<g transform="translate(294.60,232.60) scale(1,1.055)"><text x="-12.09" y="0">250</text></g>
<g transform="translate(340.60,232.60) scale(1,1.055)"><text x="-12.09" y="0">300</text></g>
<g transform="translate(387.50,232.60) scale(1,1.055)"><text x="-12.09" y="0">350</text></g>
<g transform="translate(51.40,13.30) scale(1,1.055)"><text x="-8.06" y="0">5</text></g>
<g transform="translate(51.40,76.50) scale(1,1.055)"><path transform="translate(-8.06,0) scale(0.007080,-0.007080)" d="M763 0 L583 0 L583 1147 Q518 1085 412.5 1023 Q307 961 223 930 L223 1104 Q374 1175 487 1276 Q600 1377 647 1472 L763 1472 Z"/></g>
<g transform="translate(51.40,103.50) scale(1,1.055)"><text x="-28.22" y="0">0.50</text></g>
<g transform="translate(51.40,166.50) scale(1,1.055)"><text x="-28.22" y="0">0.</text><path transform="translate(-16.12,0) scale(0.007080,-0.007080)" d="M763 0 L583 0 L583 1147 Q518 1085 412.5 1023 Q307 961 223 930 L223 1104 Q374 1175 487 1276 Q600 1377 647 1472 L763 1472 Z"/><text x="-8.06" y="0">0</text></g>
<g transform="translate(51.40,194.20) scale(1,1.055)"><text x="-28.22" y="0">0.05</text></g>
<text transform="translate(229.6,256) scale(1.006,1.045)" text-anchor="middle">measurement time [days]</text>
<text transform="translate(14.4,126) rotate(-90)" x="0" y="0">f [Hz]</text>
</g>
</svg>
</body></html>
